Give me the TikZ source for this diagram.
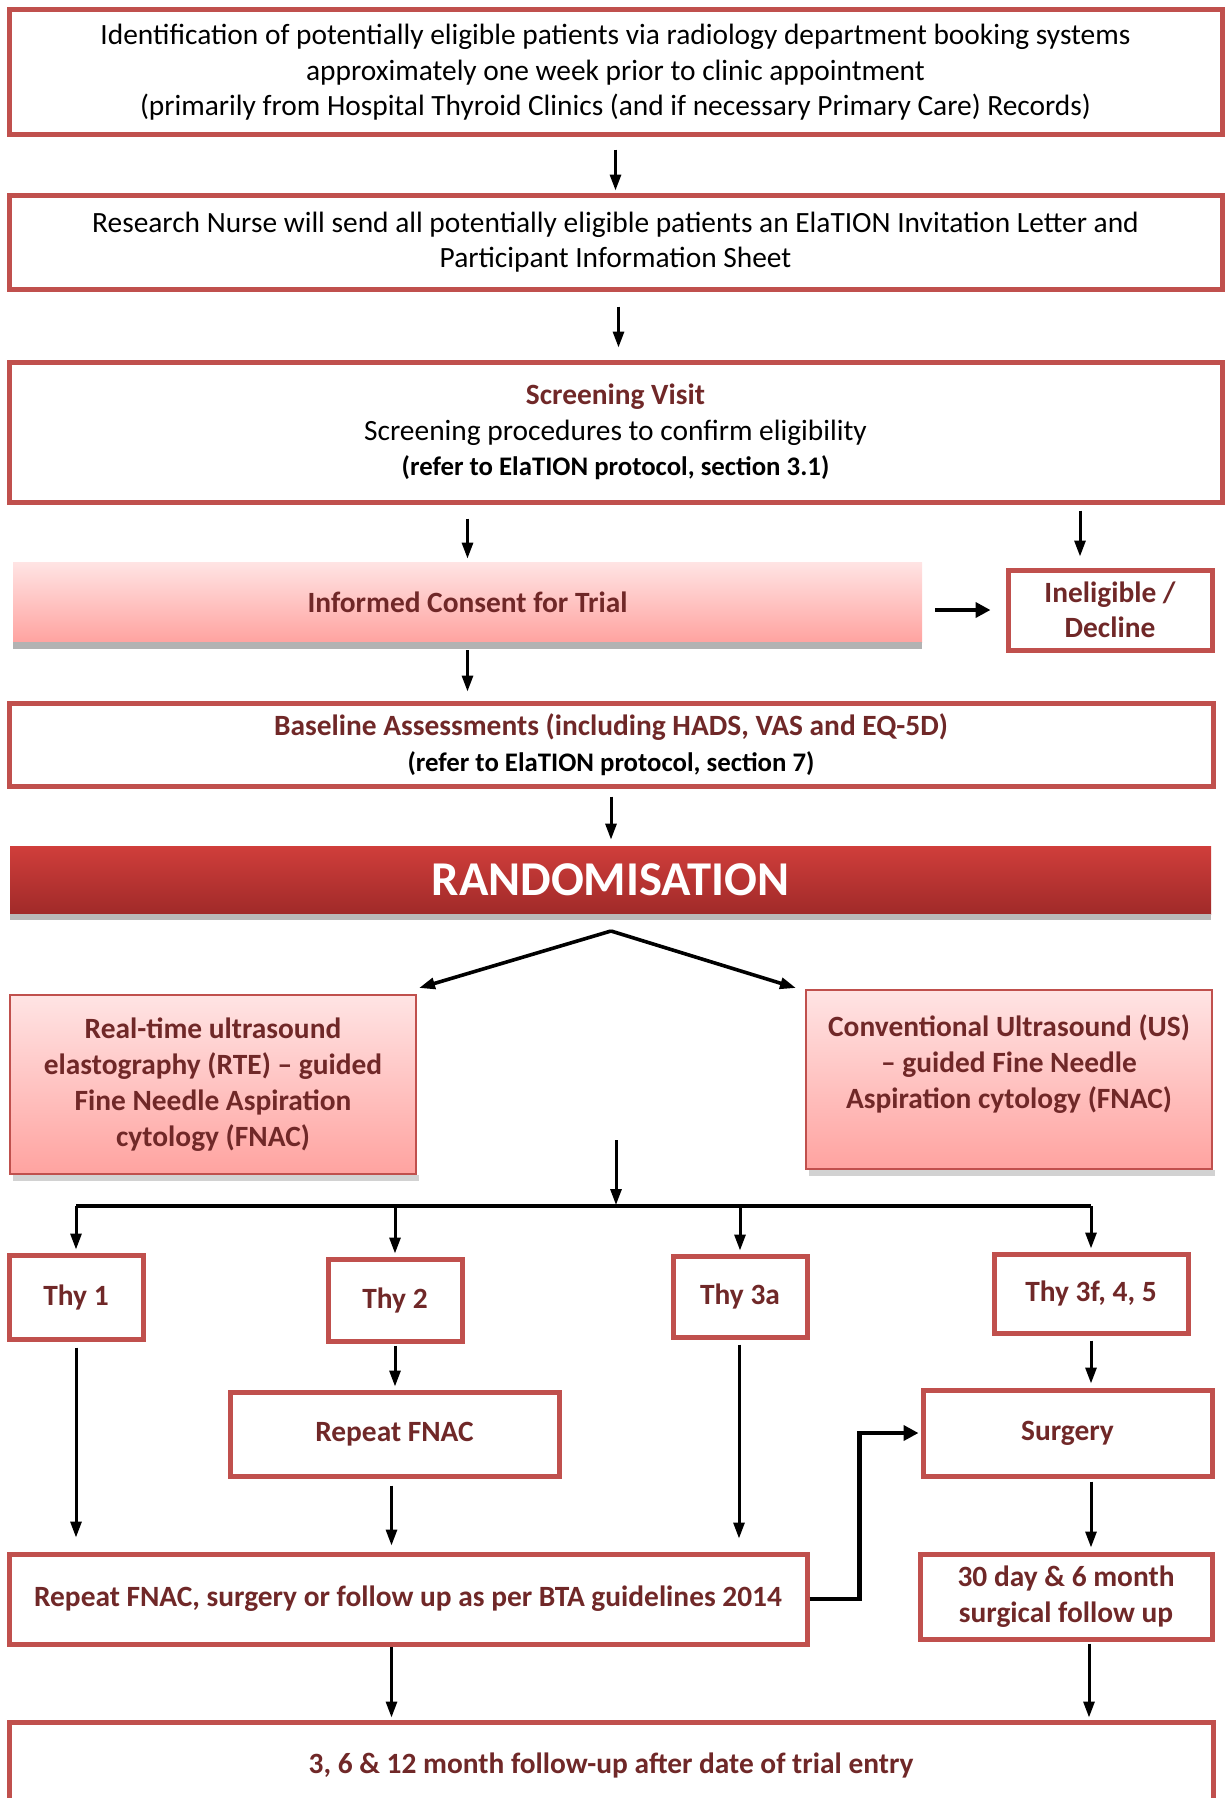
\documentclass[tikz,border=0pt]{standalone}
\usepackage{fontspec}
\setmainfont{Carlito}
\usetikzlibrary{arrows.meta}

\newlength{\du}
\setlength{\du}{0.5pt}

\definecolor{boxred}{RGB}{192,80,77}
\definecolor{darkmaroon}{RGB}{112,40,40}
\definecolor{pinktop}{RGB}{255,228,228}
\definecolor{pinkbottom}{RGB}{255,163,160}
\definecolor{randtop}{RGB}{208,62,59}
\definecolor{randbottom}{RGB}{160,42,41}

\tikzset{
  bodytext/.style={font=\fontsize{14.7}{17.75}\selectfont},
  boldtext/.style={font=\fontsize{14.7}{17.75}\selectfont\bfseries, text=darkmaroon},
  redbox/.style={draw=boxred, line width=2.5pt, fill=white, align=center, inner sep=0pt},
  pinkbox/.style={draw=boxred, line width=1pt, top color=pinktop, bottom color=pinkbottom,
    align=center, inner sep=0pt, boldtext, execute at begin node=\setlength{\baselineskip}{18pt}},
  consentbar/.style={top color=pinktop, bottom color=pinkbottom, inner sep=0pt, boldtext},
  randbar/.style={top color=randtop, bottom color=randbottom, inner sep=0pt,
    text=white, font=\fontsize{24.3}{29}\selectfont\bfseries},
  flowarrow/.style={line width=1.5pt, -{Triangle[length=8pt,width=5.5pt]}},
  thickarrow/.style={line width=2.2pt, -{Triangle[length=7.5pt,width=7.5pt]}},
  busline/.style={line width=1.6pt}
}

\begin{document}
\begin{tikzpicture}
\pgftransformyscale{-1.000000}
\useasboundingbox (0\du,0\du) rectangle (1230\du,1798\du);
\clip (0\du,0\du) rectangle (1230\du,1798\du);

% identification and invitation
\node[redbox, bodytext, minimum width=1213\du, minimum height=125\du] (ident) at (615.5\du,72.5\du){Identification of potentially eligible patients via radiology department booking systems\\approximately one week prior to clinic appointment\\(primarily from Hospital Thyroid Clinics (and if necessary Primary Care) Records)};
\node[redbox, bodytext, minimum width=1213\du, minimum height=94\du] (nurse) at (615.5\du,242\du){Research Nurse will send all potentially eligible patients an ElaTION Invitation Letter and\\Participant Information Sheet};
\node[redbox, bodytext, minimum width=1213\du, minimum height=140\du] (screen) at (615.5\du,432\du){\textbf{\textcolor{darkmaroon}{Screening Visit}}\\Screening procedures to confirm eligibility\\{\fontsize{13.4}{17}\selectfont\bfseries (refer to ElaTION protocol, section 3.1)}};

% consent
\node[consentbar, minimum width=909\du, minimum height=80\du] (consent) at (467.5\du,602\du){Informed Consent for Trial};
\fill[gray!60] (consent.south west) rectangle ++(909\du,7\du);
\node[redbox, boldtext, minimum width=204\du, minimum height=80\du] (inelig) at (1110\du,610\du){Ineligible /\\Decline};
\node[redbox, boldtext, minimum width=1204\du, minimum height=83\du] (baseline) at (611\du,744.5\du){Baseline Assessments (including HADS, VAS and EQ-5D)\\{\fontsize{13.4}{16}\selectfont\color{black}(refer to ElaTION protocol, section 7)}};

% randomisation
\node[randbar, minimum width=1201\du, minimum height=68\du] (rand) at (610.5\du,880\du){RANDOMISATION};
\fill[gray!55] (rand.south west) rectangle ++(1201\du,6\du);
\coordinate (fork) at (611\du,931\du);

% arms
\node[pinkbox, minimum width=406\du, minimum height=179\du] (rte) at (213\du,1084.5\du){Real-time ultrasound\\elastography (RTE) -- guided\\Fine Needle Aspiration\\cytology (FNAC)};
\fill[gray!35] ([xshift=4\du]rte.south west) rectangle ++(406\du,6\du);
\node[pinkbox, minimum width=406\du, minimum height=179\du] (us) at (1009\du,1079.5\du){Conventional Ultrasound (US)\\-- guided Fine Needle\\Aspiration cytology (FNAC)\\~};
\fill[gray!35] ([xshift=4\du]us.south west) rectangle ++(406\du,6\du);
\coordinate (merge) at (616\du,1140\du);
\coordinate (bus) at (616\du,1206\du);

% thy categories
\node[redbox, boldtext, minimum width=134\du, minimum height=84\du] (thy1) at (76\du,1297\du){Thy 1};
\node[redbox, boldtext, minimum width=134\du, minimum height=82\du] (thy2) at (395\du,1300\du){Thy 2};
\node[redbox, boldtext, minimum width=134\du, minimum height=81\du] (thy3a) at (740\du,1296.5\du){Thy 3a};
\node[redbox, boldtext, minimum width=194\du, minimum height=79\du] (thy3f) at (1091\du,1293.5\du){Thy 3f, 4, 5};
\node[redbox, boldtext, minimum width=329\du, minimum height=84\du] (repeat) at (394.5\du,1434\du){Repeat FNAC};
\node[redbox, boldtext, minimum width=289\du, minimum height=86\du] (surgery) at (1067.5\du,1433\du){Surgery};
\node[redbox, boldtext, minimum width=798\du, minimum height=90\du] (bta) at (408\du,1599\du){Repeat FNAC, surgery or follow up as per BTA guidelines 2014};
\node[redbox, boldtext, minimum width=292\du, minimum height=85\du] (month30) at (1066\du,1596.5\du){30 day \& 6 month\\surgical follow up};
\node[redbox, boldtext, minimum width=1204\du, minimum height=86\du] (final) at (611\du,1765\du){3, 6 \& 12 month follow-up after date of trial entry};

% connectors
\draw[flowarrow, shorten <=6pt, shorten >=1pt] (ident.south) -- (nurse.north);
\draw[flowarrow, shorten <=7.5pt, shorten >=6pt] ([xshift=3\du]nurse.south) -- ([xshift=3\du]screen.north);
\draw[flowarrow, shorten <=7pt, shorten >=1.5pt] (screen.south -| consent.north) -- (consent.north);
\draw[flowarrow, shorten <=3pt, shorten >=5.5pt] ([xshift=-30\du]screen.south -| inelig.north) -- ([xshift=-30\du]inelig.north);
\draw[thickarrow, shorten <=6.5pt, shorten >=7.5pt] (consent.east |- inelig.west) -- (inelig.west);
\draw[flowarrow, shorten <=4pt, shorten >=4.5pt] (consent.south) -- (consent.south |- baseline.north);
\draw[flowarrow, shorten <=4pt, shorten >=3pt] (baseline.south) -- (baseline.south |- rand.north);
\draw[flowarrow, line width=1.8pt] (fork) -- ([xshift=2\du,yshift=-6\du]rte.north east);
\draw[flowarrow, line width=1.8pt] (fork) -- ([xshift=-9\du,yshift=-1\du]us.north west);
\draw[flowarrow, shorten >=0.5pt] (merge) -- (bus);
\draw[busline] (thy1.north |- bus) -- (thy3f.north |- bus);
\foreach \thy in {thy1,thy2,thy3a,thy3f}
  \draw[flowarrow, shorten >=1.5pt] (\thy.north |- bus) -- (\thy.north);
\draw[flowarrow, shorten <=3pt, shorten >=7pt] (thy1.south) -- (thy1.south |- bta.north);
\draw[flowarrow, shorten <=1pt, shorten >=1.5pt] (thy2.south) -- (thy2.south |- repeat.north);
\draw[flowarrow, shorten <=3.5pt, shorten >=3pt] ([xshift=-3\du]repeat.south) -- ([xshift=-3\du]repeat.south |- bta.north);
\draw[flowarrow, shorten <=2.5pt, shorten >=6.5pt] ([xshift=-1\du]thy3a.south) -- ([xshift=-1\du]thy3a.south |- bta.north);
\draw[flowarrow, shorten <=2.5pt, shorten >=2pt] (thy3f.south) -- (thy3f.south |- surgery.north);
\draw[flowarrow, shorten <=1.5pt, shorten >=2pt] (thy3f.south |- surgery.south) -- (thy3f.south |- month30.north);
\draw[thickarrow, shorten >=1pt] (bta.east) -- ++(50\du,0) |- (surgery.west);
\draw[flowarrow, shorten >=1pt] ([xshift=-3\du]repeat.south |- bta.south) -- ([xshift=-3\du]repeat.south |- final.north);
\draw[flowarrow, shorten <=1pt, shorten >=1pt] ([xshift=-2\du]thy3f.south |- month30.south) -- ([xshift=-2\du]thy3f.south |- final.north);
\end{tikzpicture}
\end{document}
